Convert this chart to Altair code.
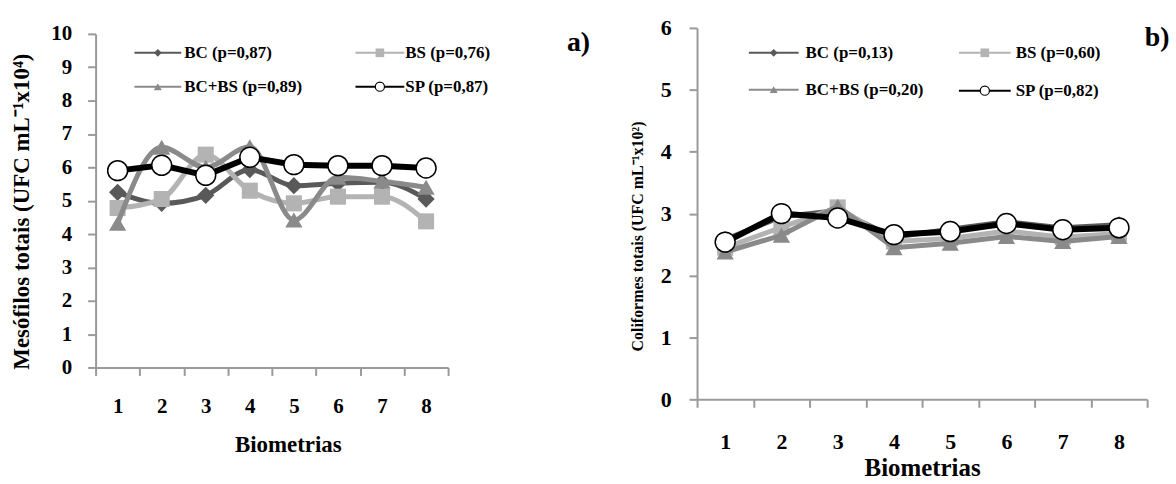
import altair as alt
import pandas as pd

biometrias = [1, 2, 3, 4, 5, 6, 7, 8]
series = ["BC", "BS", "BC+BS", "SP"]

# Panel a) Mesófilos totais
mes_BC = [5.25, 4.92, 5.16, 5.93, 5.45, 5.52, 5.55, 5.05]
mes_BS = [4.78, 5.05, 6.38, 5.30, 4.92, 5.12, 5.12, 4.38]
mes_BCBS = [4.32, 6.60, 6.00, 6.62, 4.42, 5.70, 5.58, 5.40]
mes_SP = [5.90, 6.06, 5.76, 6.30, 6.08, 6.05, 6.05, 5.98]
mes_legend = ["BC (p=0,87)", "BS (p=0,76)", "BC+BS (p=0,89)", "SP (p=0,87)"]

# Panel b) Coliformes totais
col_BC = [2.58, 2.95, 3.05, 2.62, 2.75, 2.87, 2.77, 2.82]
col_BS = [2.45, 2.78, 3.10, 2.55, 2.60, 2.72, 2.62, 2.68]
col_BCBS = [2.38, 2.65, 3.12, 2.45, 2.52, 2.63, 2.55, 2.63]
col_SP = [2.54, 3.00, 2.93, 2.66, 2.71, 2.84, 2.74, 2.77]
col_legend = ["BC (p=0,13)", "BS (p=0,60)", "BC+BS (p=0,20)", "SP (p=0,82)"]

colors = {"BC": "#595959", "BS": "#b3b3b3", "BC+BS": "#8a8a8a", "SP": "#000000"}
fills = {"BC": "#595959", "BS": "#b3b3b3", "BC+BS": "#8a8a8a", "SP": "#ffffff"}
shapes = {"BC": "diamond", "BS": "square", "BC+BS": "triangle-up", "SP": "circle"}
sizes = {"BC": 300, "BS": 260, "BC+BS": 300, "SP": 400}
leg_sizes = {"BC": 60, "BS": 75, "BC+BS": 65, "SP": 85}

FONT = "Liberation Serif"
AXIS_GRAY = "#9a9a9a"


def panel(vals, labels, width, height, ydom, yrange, yticks, ytitle, ytitle_size,
          ylab_size, ylab_pad, ytitle_x, ytitle_y, xlab_size, xlab_pad,
          xtitle_size, xtitle_x, xtitle_y, interp, leg, tag, tag_pos):
    half = width / 16.0
    xenc = alt.X(
        "b:Q",
        scale=alt.Scale(domain=[0.5, 8.5], nice=False, zero=False),
        axis=alt.Axis(
            values=[0.5 + i for i in range(9)],
            labelExpr="datum.value < 8 ? format(datum.value + 0.5, 'd') : ''",
            labelOffset=half, tickSize=8, tickWidth=2, domainWidth=2,
            domainColor=AXIS_GRAY, tickColor=AXIS_GRAY,
            labelFontSize=xlab_size, labelPadding=xlab_pad, labelBaseline="middle",
            labelFlush=False, labelOverlap=False, grid=False,
            title="Biometrias", titleFontSize=xtitle_size, titleX=xtitle_x,
            titleY=xtitle_y, titleBaseline="middle",
        ),
    )
    if yrange is not None:
        yscale = alt.Scale(domain=ydom, nice=False, zero=True, range=yrange)
    else:
        yscale = alt.Scale(domain=ydom, nice=False, zero=True)
    yenc = alt.Y(
        "v:Q",
        scale=yscale,
        axis=alt.Axis(
            values=yticks, tickSize=8, tickWidth=2, domainWidth=2,
            domainColor=AXIS_GRAY, tickColor=AXIS_GRAY,
            labelFontSize=ylab_size, labelPadding=ylab_pad, labelFlush=False,
            labelOverlap=False, grid=False,
            title=ytitle, titleFontSize=ytitle_size, titleAngle=270,
            titleX=ytitle_x, titleY=ytitle_y, titleBaseline="middle",
            titleAlign="center",
        ),
    )
    layers = []
    for s in ["BC", "BS", "BC+BS", "SP"]:
        df = pd.DataFrame({"b": biometrias, "v": vals[s]})
        lw = 5 if s != "SP" else 6
        ip = interp if s != "SP" else "linear"
        layers.append(
            alt.Chart(df).mark_line(color=colors[s], strokeWidth=lw, interpolate=ip)
            .encode(x=xenc, y=yenc)
        )
        layers.append(
            alt.Chart(df).mark_point(shape=shapes[s], size=sizes[s], filled=True,
                                     fill=fills[s], stroke=colors[s],
                                     strokeWidth=1.5 if s == "SP" else 0, opacity=1)
            .encode(x=xenc, y=yenc)
        )
    # legend
    for i, s in enumerate(series):
        lx1, lx2, ly, tx = leg[i]
        d = pd.DataFrame({"label": [labels[i]]})
        layers.append(
            alt.Chart(d).mark_rule(color=colors[s], strokeWidth=2)
            .encode(x=alt.value(lx1), x2=alt.value(lx2), y=alt.value(ly))
        )
        layers.append(
            alt.Chart(d).mark_point(shape=shapes[s], size=leg_sizes[s], filled=True,
                                    fill=fills[s], stroke=colors[s],
                                    strokeWidth=1.2 if s == "SP" else 0, opacity=1)
            .encode(x=alt.value((lx1 + lx2) / 2), y=alt.value(ly))
        )
        layers.append(
            alt.Chart(d).mark_text(align="left", baseline="middle", font=FONT,
                                   fontWeight="bold", fontSize=17, color="black")
            .encode(x=alt.value(tx), y=alt.value(ly), text="label:N")
        )
    dtag = pd.DataFrame({"t": [tag]})
    layers.append(
        alt.Chart(dtag).mark_text(align="center", baseline="middle", font=FONT,
                                  fontWeight="bold", fontSize=28, color="black")
        .encode(x=alt.value(tag_pos[0]), y=alt.value(tag_pos[1]), text="t:N")
    )
    return alt.layer(*layers).properties(width=width, height=height)


left = panel(
    {"BC": mes_BC, "BS": mes_BS, "BC+BS": mes_BCBS, "SP": mes_SP}, mes_legend,
    width=354, height=341, ydom=[0, 10], yrange=[341, 6], yticks=list(range(11)),
    ytitle="Mesófilos totais (UFC  mL⁻¹x10⁴)", ytitle_size=23, ylab_size=21,
    ylab_pad=16, ytitle_x=-74, ytitle_y=184, xlab_size=21, xlab_pad=31,
    xtitle_size=23, xtitle_x=193, xtitle_y=77, interp="monotone",
    leg=[(39, 86, 25, 89), (261, 310, 25, 311), (39, 86, 59, 89), (261, 310, 59, 311)],
    tag="a)", tag_pos=(485, 15),
)

right = panel(
    {"BC": col_BC, "BS": col_BS, "BC+BS": col_BCBS, "SP": col_SP}, col_legend,
    width=452, height=373, ydom=[0, 6], yrange=None, yticks=list(range(7)),
    ytitle="Coliformes totais (UFC mL⁻¹x10²)", ytitle_size=16, ylab_size=22,
    ylab_pad=18, ytitle_x=-60, ytitle_y=209, xlab_size=22, xlab_pad=34,
    xtitle_size=25, xtitle_x=226, xtitle_y=69, interp="linear",
    leg=[(52, 102, 25, 109), (263, 315, 25, 320), (52, 102, 62, 109), (263, 315, 63, 320)],
    tag="b)", tag_pos=(462, 10),
)

chart = (
    alt.hconcat(left, right, spacing=250, bounds="flush")
    .properties(padding={"left": 10, "top": 16, "right": 0, "bottom": 0},
                background="white")
    .configure_view(stroke=None)
    .configure_axis(labelFont=FONT, titleFont=FONT, labelFontWeight="bold",
                    titleFontWeight="bold", labelColor="black", titleColor="black")
)

chart.save("out.html", embed_options={"renderer": "svg", "actions": False})
